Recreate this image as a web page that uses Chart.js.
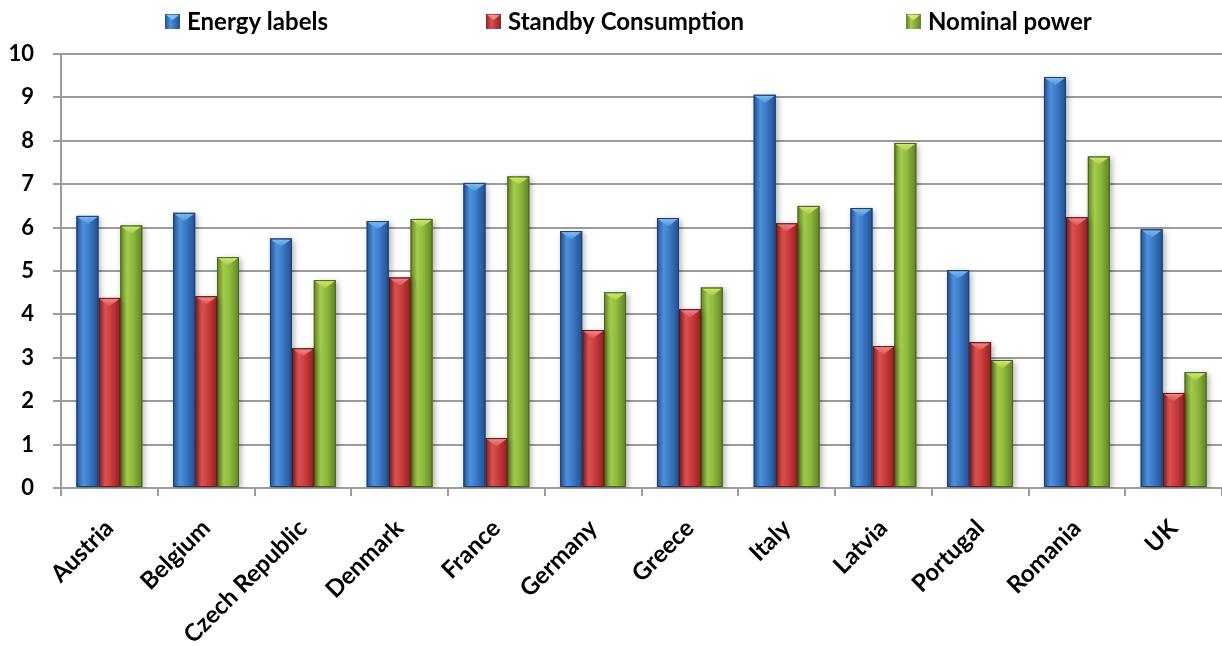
<!DOCTYPE html>
<html>
<head>
<meta charset="utf-8">
<script src="https://cdn.jsdelivr.net/npm/chart.js@4.4.0/dist/chart.umd.min.js"></script>
<style>
  html, body { margin: 0; padding: 0; background: #ffffff; }
  #wrap { position: relative; width: 1222px; height: 646px; }
</style>
</head>
<body>
<div id="wrap"><canvas id="chart" width="1222" height="646"></canvas></div>
<script>
// ---- data ----
const categories = ['Austria', 'Belgium', 'Czech Republic', 'Denmark', 'France', 'Germany', 'Greece', 'Italy', 'Latvia', 'Portugal', 'Romania', 'UK'];
const seriesNames = ['Energy labels', 'Standby Consumption', 'Nominal power'];
const energyLabels = [6.27, 6.34, 5.75, 6.15, 7.03, 5.92, 6.22, 9.06, 6.45, 5.02, 9.47, 5.96];
const standbyConsumption = [4.38, 4.42, 3.22, 4.85, 1.15, 3.64, 4.12, 6.10, 3.27, 3.36, 6.24, 2.19];
const nominalPower = [6.05, 5.32, 4.79, 6.20, 7.18, 4.51, 4.62, 6.50, 7.95, 2.95, 7.64, 2.67];
const yTickMin = 0;
const yTickMax = 10;
const yTickStep = 1;

// ---- styles ----
const FONT = 'Lato, "Open Sans", sans-serif';
const palette = {
  base:  ['#3a77c4', '#c93b3b', '#8db73d'],
  dark:  ['#22508e', '#8f2222', '#5f8225'],
  light: ['#4f90dc', '#dc5252', '#a4cb4b'],
  cap:   ['#86c0f2', '#f38c8c', '#d4ea74'],
  edge:  ['#1d3f6e', '#6c1b1b', '#4a641d']
};
const legendMarkerX = [165, 486, 906];

// 3D-ish bar look drawn over the library's own bar elements
const barLook = {
  id: 'barLook',
  beforeDatasetDraw(chart) {
    const ctx = chart.ctx;
    ctx.save();
    ctx.shadowColor = 'rgba(0,0,0,0.32)';
    ctx.shadowBlur = 6;
    ctx.shadowOffsetX = 2;
    ctx.shadowOffsetY = 2;
  },
  afterDatasetDraw(chart, args) {
    const ctx = chart.ctx;
    ctx.restore();
    const i = args.index;
    ctx.save();
    args.meta.data.forEach(bar => {
      const p = bar.getProps(['x', 'y', 'base', 'width'], true);
      const l = p.x - p.width / 2, r = p.x + p.width / 2, top = p.y, h = p.base - p.y;
      if (h <= 0) return;
      const g = ctx.createLinearGradient(l, 0, r, 0);
      g.addColorStop(0, palette.dark[i]);
      g.addColorStop(0.3, palette.light[i]);
      g.addColorStop(0.6, palette.base[i]);
      g.addColorStop(1, palette.dark[i]);
      ctx.fillStyle = g;
      ctx.fillRect(l, top, p.width, h);
      const ch = Math.min(p.width * 0.38, h);
      const cg = ctx.createLinearGradient(0, top, 0, top + ch);
      cg.addColorStop(0, palette.cap[i]);
      cg.addColorStop(1, palette.light[i]);
      ctx.fillStyle = cg;
      ctx.beginPath();
      ctx.moveTo(l + 1, top + 1);
      ctx.lineTo(r - 1, top + 1);
      ctx.lineTo(p.x, top + ch);
      ctx.closePath();
      ctx.fill();
      ctx.strokeStyle = palette.edge[i];
      ctx.lineWidth = 1;
      ctx.strokeRect(l + 0.5, top + 0.5, p.width - 1, h - 1);
    });
    ctx.restore();
  }
};

// legend drawn at the top with wide spacing
const topLegend = {
  id: 'topLegend',
  afterDraw(chart) {
    const ctx = chart.ctx;
    ctx.save();
    ctx.font = 'bold 24px ' + FONT;
    ctx.textBaseline = 'middle';
    ctx.textAlign = 'left';
    const cy = 21.5, s = 15;
    chart.data.datasets.forEach((ds, i) => {
      const x = legendMarkerX[i];
      const g = ctx.createLinearGradient(x, 0, x + s, 0);
      g.addColorStop(0, palette.dark[i]);
      g.addColorStop(0.35, palette.light[i]);
      g.addColorStop(1, palette.dark[i]);
      ctx.fillStyle = g;
      ctx.fillRect(x, cy - s / 2, s, s);
      ctx.fillStyle = palette.cap[i];
      ctx.beginPath();
      ctx.moveTo(x + 1, cy - s / 2 + 1);
      ctx.lineTo(x + s - 1, cy - s / 2 + 1);
      ctx.lineTo(x + s / 2, cy - s / 2 + 6);
      ctx.closePath();
      ctx.fill();
      ctx.fillStyle = '#000';
      ctx.fillText(ds.label, x + s + 7, cy + 1);
    });
    ctx.restore();
  }
};

const ctx = document.getElementById('chart').getContext('2d');
new Chart(ctx, {
  type: 'bar',
  data: {
    labels: categories,
    datasets: [
      { label: seriesNames[0], data: energyLabels, backgroundColor: palette.base[0] },
      { label: seriesNames[1], data: standbyConsumption, backgroundColor: palette.base[1] },
      { label: seriesNames[2], data: nominalPower, backgroundColor: palette.base[2] }
    ]
  },
  options: {
    responsive: false,
    devicePixelRatio: 1,
    animation: false,
    layout: { padding: { top: 54, left: 10, right: 0, bottom: 0 } },
    datasets: { bar: { categoryPercentage: 0.68, barPercentage: 1.0 } },
    plugins: { legend: { display: false }, tooltip: { enabled: false } },
    scales: {
      x: {
        grid: { display: true, drawOnChartArea: false, drawTicks: true, tickLength: 8, color: '#9c9c9c', lineWidth: 2, offset: true },
        border: { display: true, color: '#9c9c9c', width: 2 },
        ticks: {
          minRotation: 45, maxRotation: 45, autoSkip: false, padding: 18,
          color: '#000', font: { family: FONT, size: 24, weight: 'bold' }
        },
        afterFit(scale) { scale.height = 158; }
      },
      y: {
        min: yTickMin, max: yTickMax,
        grid: { color: '#9c9c9c', lineWidth: 2, tickLength: 8, drawTicks: true },
        border: { display: true, color: '#9c9c9c', width: 2 },
        ticks: {
          stepSize: yTickStep, padding: 19,
          color: '#000', font: { family: FONT, size: 22, weight: 'bold' }
        },
        afterFit(scale) { scale.width = 51; }
      }
    }
  },
  plugins: [barLook, topLegend]
});
</script>
</body>
</html>
